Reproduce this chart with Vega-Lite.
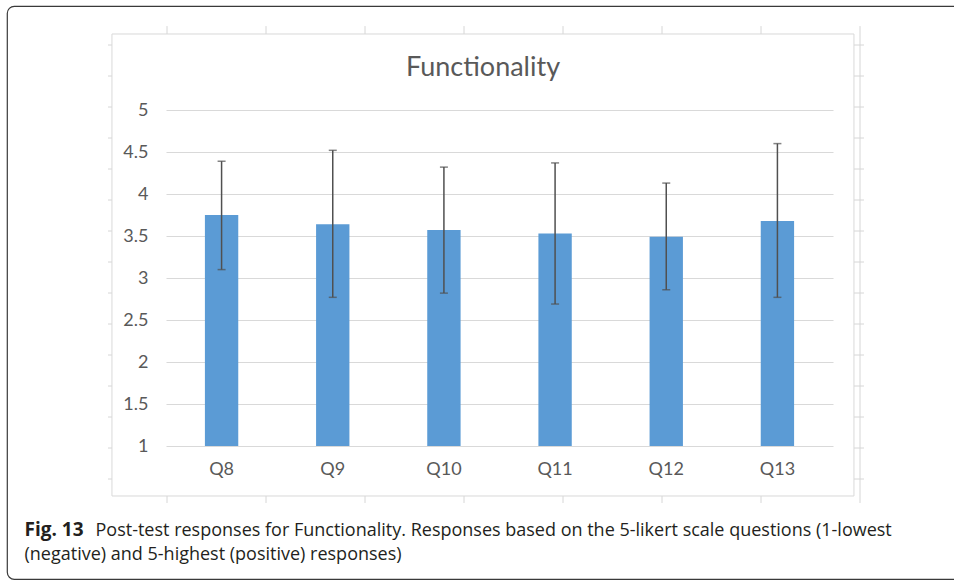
{
  "$schema": "https://vega.github.io/schema/vega-lite/v6.json",
  "width": 960,
  "height": 573,
  "autosize": {"type": "none"},
  "padding": {"left": 7, "top": 6, "right": -13, "bottom": 1},
  "background": "white",
  "config": {
    "view": {"stroke": "#3a3a3a", "strokeWidth": 1.2, "cornerRadius": 7},
    "font": "Lato"
  },
  "title": {
    "text": "Functionality",
    "font": "Lato",
    "fontSize": 27,
    "fontWeight": "normal",
    "color": "#595959",
    "anchor": "middle",
    "frame": "group",
    "baseline": "alphabetic",
    "offset": 0,
    "dx": -4,
    "dy": 97
  },
  "datasets": {
    "responses": [
      {"q": "Q8", "mean": 3.75, "lo": 3.10, "hi": 4.39},
      {"q": "Q9", "mean": 3.64, "lo": 2.77, "hi": 4.52},
      {"q": "Q10", "mean": 3.57, "lo": 2.82, "hi": 4.32},
      {"q": "Q11", "mean": 3.53, "lo": 2.69, "hi": 4.37},
      {"q": "Q12", "mean": 3.49, "lo": 2.86, "hi": 4.13},
      {"q": "Q13", "mean": 3.68, "lo": 2.77, "hi": 4.6}
    ],
    "cols": [{"col": 0}, {"col": 1}, {"col": 2}, {"col": 3}, {"col": 4}, {"col": 5}, {"col": 6}],
    "rows": [{"row": 0}, {"row": 1}, {"row": 2}, {"row": 3}, {"row": 4}, {"row": 5}, {"row": 6}, {"row": 7}, {"row": 8}, {"row": 9}, {"row": 10}, {"row": 11}, {"row": 12}, {"row": 13}, {"row": 14}]
  },
  "resolve": {
    "scale": {"x": "independent", "y": "independent"},
    "axis": {"x": "independent", "y": "independent"}
  },
  "layer": [
    {
      "data": {"name": "responses"},
      "mark": {"type": "bar", "color": "#5b9bd5"},
      "encoding": {
        "x": {
          "field": "q", "type": "nominal", "sort": null,
          "scale": {"range": [159, 826], "paddingInner": 0.7, "paddingOuter": 0.35},
          "axis": {
            "orient": "bottom", "offset": -133, "domain": false, "ticks": false, "grid": false,
            "labelAngle": 0, "labelFont": "Lato", "labelFontSize": 18, "labelColor": "#595959",
            "labelBaseline": "middle", "labelPadding": 23,
            "title": "Post-test responses for Functionality. Responses based on the 5-likert scale questions (1-lowest",
            "titleFont": "Open Sans", "titleFontSize": 18, "titleFontWeight": "normal", "titleColor": "#231f20",
            "titleAngle": 0, "titleAlign": "left", "titleBaseline": "alphabetic", "titleX": 88, "titleY": 89
          }
        },
        "y": {
          "field": "mean", "type": "quantitative",
          "scale": {"domain": [1, 5], "range": [440, 104], "nice": false, "zero": false},
          "axis": {
            "orient": "left", "offset": -145, "domain": false, "ticks": false,
            "values": [1, 1.5, 2, 2.5, 3, 3.5, 4, 4.5, 5], "format": "~g",
            "grid": true, "gridColor": "#d9d9d9", "gridWidth": 1,
            "labelFont": "Lato", "labelFontSize": 18, "labelColor": "#595959", "labelPadding": 4,
            "title": "Fig. 13",
            "titleFont": "Open Sans", "titleFontSize": 19, "titleFontWeight": "bold", "titleColor": "#231f20",
            "titleAngle": 0, "titleAlign": "left", "titleBaseline": "alphabetic", "titleX": -128, "titleY": 529
          }
        },
        "y2": {"datum": 1}
      }
    },
    {
      "data": {"name": "responses"},
      "mark": {"type": "rule", "color": "#505050", "strokeWidth": 1.5},
      "encoding": {
        "x": {"field": "q", "type": "nominal", "sort": null,
              "scale": {"range": [159, 826], "paddingInner": 0.7, "paddingOuter": 0.35}, "axis": null},
        "y": {"field": "lo", "type": "quantitative",
              "scale": {"domain": [1, 5], "range": [440, 104], "nice": false, "zero": false}, "axis": null},
        "y2": {"field": "hi"}
      }
    },
    {
      "data": {"name": "responses"},
      "transform": [{"fold": ["lo", "hi"], "as": ["end", "value"]}],
      "mark": {"type": "tick", "color": "#505050", "thickness": 1.5, "size": 8},
      "encoding": {
        "x": {"field": "q", "type": "nominal", "sort": null,
              "scale": {"range": [159, 826], "paddingInner": 0.7, "paddingOuter": 0.35}, "axis": null},
        "y": {"field": "value", "type": "quantitative",
              "scale": {"domain": [1, 5], "range": [440, 104], "nice": false, "zero": false}, "axis": null}
      }
    },
    {
      "data": {"name": "cols"},
      "mark": {"type": "rule", "color": "#d6d6d6", "strokeWidth": 1},
      "encoding": {
        "x": {
          "field": "col", "type": "quantitative",
          "scale": {"domain": [0, 7], "range": [160, 853], "nice": false, "zero": false},
          "axis": {
            "orient": "top", "offset": 0, "domain": false, "ticks": false, "labels": false, "grid": false,
            "title": "(negative) and 5-highest (positive) responses)",
            "titleFont": "Open Sans", "titleFontSize": 18, "titleFontWeight": "normal", "titleColor": "#231f20",
            "titleAngle": 0, "titleAlign": "left", "titleBaseline": "alphabetic", "titleX": 17, "titleY": 553
          }
        },
        "y": {"datum": -0.61, "scale": {"domain": [0, 14], "range": [39, 473], "nice": false, "zero": false}, "axis": null},
        "y2": {"datum": -0.355}
      }
    },
    {
      "data": {"name": "cols"},
      "mark": {"type": "rule", "color": "#d6d6d6", "strokeWidth": 1},
      "encoding": {
        "x": {"field": "col", "type": "quantitative",
              "scale": {"domain": [0, 7], "range": [160, 853], "nice": false, "zero": false}, "axis": null},
        "y": {"datum": 14.548, "scale": {"domain": [0, 14], "range": [39, 473], "nice": false, "zero": false}, "axis": null},
        "y2": {"datum": 14.774}
      }
    },
    {
      "data": {"values": [{"col": 7}]},
      "mark": {"type": "rule", "color": "#d6d6d6", "strokeWidth": 1},
      "encoding": {
        "x": {"field": "col", "type": "quantitative",
              "scale": {"domain": [0, 7], "range": [160, 853], "nice": false, "zero": false}, "axis": null},
        "y": {"datum": -0.61, "scale": {"domain": [0, 14], "range": [39, 473], "nice": false, "zero": false}, "axis": null},
        "y2": {"datum": 14.774}
      }
    },
    {
      "data": {"name": "rows"},
      "mark": {"type": "rule", "color": "#d6d6d6", "strokeWidth": 1},
      "encoding": {
        "y": {"field": "row", "type": "quantitative",
              "scale": {"domain": [0, 14], "range": [39, 473], "nice": false, "zero": false}, "axis": null},
        "x": {"datum": -0.596, "scale": {"domain": [0, 7], "range": [160, 853], "nice": false, "zero": false}, "axis": null},
        "x2": {"datum": -0.556}
      }
    },
    {
      "data": {"name": "rows"},
      "mark": {"type": "rule", "color": "#d6d6d6", "strokeWidth": 1},
      "encoding": {
        "y": {"field": "row", "type": "quantitative",
              "scale": {"domain": [0, 14], "range": [39, 473], "nice": false, "zero": false}, "axis": null},
        "x": {"datum": 6.939, "scale": {"domain": [0, 7], "range": [160, 853], "nice": false, "zero": false}, "axis": null},
        "x2": {"datum": 7.04}
      }
    },
    {
      "data": {"values": [{}]},
      "mark": {"type": "rect", "filled": false, "color": "#d9d9d9", "strokeWidth": 1},
      "encoding": {
        "x": {"datum": -0.556, "scale": {"domain": [0, 7], "range": [160, 853], "nice": false, "zero": false}, "axis": null},
        "x2": {"datum": 6.939},
        "y": {"datum": -0.355, "scale": {"domain": [0, 14], "range": [39, 473], "nice": false, "zero": false}, "axis": null},
        "y2": {"datum": 14.548}
      }
    }
  ]
}
